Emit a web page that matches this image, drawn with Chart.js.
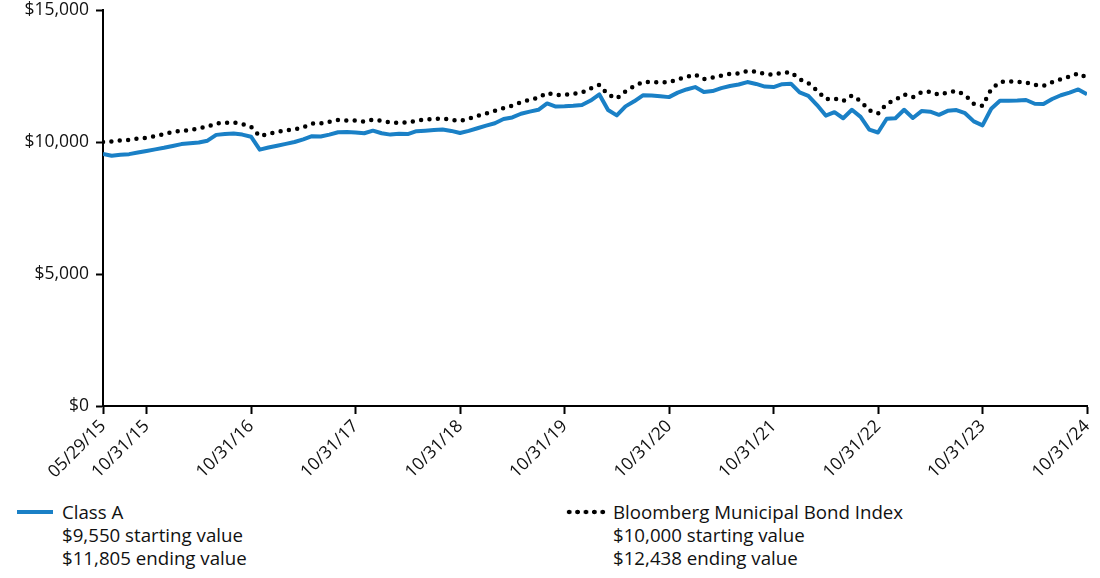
<!DOCTYPE html>
<html>
<head>
<meta charset="utf-8">
<script src="https://cdn.jsdelivr.net/npm/chart.js@4/dist/chart.umd.min.js"></script>
<style>
  html, body { margin: 0; padding: 0; background: #fff; }
  body { width: 1100px; height: 578px; position: relative; overflow: hidden; font-family: "Open Sans", sans-serif; color: #111; }
  #wrap { position: absolute; left: 0; top: 0; width: 1100px; height: 480px; }
  .leg { position: absolute; font-size: 18.7px; line-height: 23px; }
  .sw-line { position: absolute; left: 17px; top: 510px; width: 36px; height: 4px; background: #1a80c6; }
  .sw-dots { position: absolute; left: 565px; top: 509px; width: 42px; height: 6px;
    background-image: radial-gradient(circle, #000 2.1px, transparent 2.6px); background-size: 8.4px 6px; }
</style>
</head>
<body>
<div id="wrap"><canvas id="c" width="1100" height="480"></canvas></div>
<div class="sw-line"></div>
<div class="leg" style="left:62px; top:500px;">Class A<br>$9,550 starting value<br>$11,805 ending value</div>
<div class="sw-dots"></div>
<div class="leg" style="left:613px; top:500px;">Bloomberg Municipal Bond Index<br>$10,000 starting value<br>$12,438 ending value</div>
<script>
// Monthly values, May 2015 (index 0) through Oct 2024 (index 113)
const classA = [
  9550, 9480, 9520, 9540, 9600, 9660, 9720, 9780, 9850, 9920,
  9950, 9980, 10050, 10270, 10300, 10320, 10280, 10200, 9710, 9790,
  9860, 9930, 10000, 10100, 10220, 10210, 10280, 10370, 10380, 10360,
  10330, 10430, 10330, 10280, 10310, 10300, 10410, 10430, 10450, 10470,
  10420, 10340, 10420, 10520, 10620, 10710, 10870, 10930, 11070, 11150,
  11220, 11460, 11340, 11350, 11370, 11400, 11570, 11800, 11210, 11010,
  11350, 11540, 11770, 11760, 11730, 11700, 11870, 11990, 12080, 11890,
  11930, 12040, 12120, 12180, 12270, 12200, 12100, 12080, 12190, 12210,
  11880, 11750, 11400, 11000, 11130, 10900, 11220, 10950, 10470, 10360,
  10880, 10900, 11220, 10910, 11170, 11150, 11030, 11180, 11210, 11090,
  10780, 10630, 11260, 11560, 11560, 11570, 11590, 11450, 11440, 11630,
  11770, 11870, 11990, 11805
];
const bondIndex = [
  10000, 10020, 10060, 10080, 10130, 10160, 10220, 10300, 10380, 10420,
  10450, 10520, 10580, 10700, 10730, 10740, 10680, 10580, 10220, 10310,
  10380, 10440, 10480, 10560, 10700, 10700, 10770, 10830, 10810, 10810,
  10770, 10850, 10800, 10740, 10730, 10740, 10810, 10850, 10870, 10890,
  10840, 10800, 10880, 10990, 11080, 11180, 11280, 11380, 11500, 11600,
  11670, 11860, 11780, 11790, 11820, 11870, 12030, 12160, 11800, 11650,
  11920, 12120, 12270, 12270, 12260, 12260, 12370, 12460, 12550, 12380,
  12440, 12510, 12580, 12600, 12690, 12670, 12580, 12550, 12620, 12640,
  12380, 12230, 11950, 11620, 11650, 11550, 11760, 11550, 11200, 11080,
  11450, 11600, 11800, 11700, 11890, 11910, 11790, 11880, 11930, 11780,
  11450, 11370, 12000, 12270, 12300, 12280, 12260, 12160, 12130, 12270,
  12380, 12480, 12600, 12438
];
const tickIndices = [0, 5, 17, 29, 41, 53, 65, 77, 89, 101, 113];
const tickLabels = ["05/29/15", "10/31/15", "10/31/16", "10/31/17", "10/31/18", "10/31/19", "10/31/20", "10/31/21", "10/31/22", "10/31/23", "10/31/24"];
const yTicks = [0, 5000, 10000, 15000];

const font = { family: "'Open Sans', sans-serif", size: 17.5 };
const toPts = arr => arr.map((v, i) => ({ x: i, y: v }));

new Chart(document.getElementById('c'), {
  type: 'line',
  data: {
    datasets: [
      { label: 'Bloomberg Municipal Bond Index', data: toPts(bondIndex), borderColor: '#000', borderWidth: 4.5,
        borderDash: [0, 8.4], borderCapStyle: 'round', pointRadius: 0, tension: 0, fill: false },
      { label: 'Class A', data: toPts(classA), borderColor: '#1a80c6', borderWidth: 4,
        pointRadius: 0, tension: 0, fill: false, borderJoinStyle: 'round' }
    ]
  },
  options: {
    responsive: false,
    animation: false,
    layout: { padding: { left: 0, right: 13, top: 10, bottom: 0 } },
    plugins: { legend: { display: false }, tooltip: { enabled: false } },
    scales: {
      x: {
        type: 'linear', min: 0, max: 113,
        afterBuildTicks: s => { s.ticks = tickIndices.map(v => ({ value: v })); },
        afterFit: s => { s.height = 74; s.paddingLeft = 0; s.paddingRight = 0; },
        ticks: { autoSkip: false, minRotation: 45, maxRotation: 45, padding: 2, color: '#111', font,
          callback: v => { const k = tickIndices.indexOf(v); return k >= 0 ? tickLabels[k] : ''; } },
        grid: { display: true, drawOnChartArea: false, drawTicks: true, tickLength: 8, tickColor: '#000', tickWidth: 2 },
        border: { display: true, color: '#000', width: 2 }
      },
      y: {
        min: 0, max: 15000,
        afterBuildTicks: s => { s.ticks = yTicks.map(v => ({ value: v })); },
        afterFit: s => { s.width = 103; s.paddingTop = 0; s.paddingBottom = 0; },
        ticks: { padding: 7, color: '#111', font, callback: v => '$' + Number(v).toLocaleString('en-US') },
        grid: { display: true, drawOnChartArea: false, drawTicks: true, tickLength: 7, tickColor: '#000', tickWidth: 2 },
        border: { display: true, color: '#000', width: 2 }
      }
    }
  }
});
</script>
</body>
</html>
